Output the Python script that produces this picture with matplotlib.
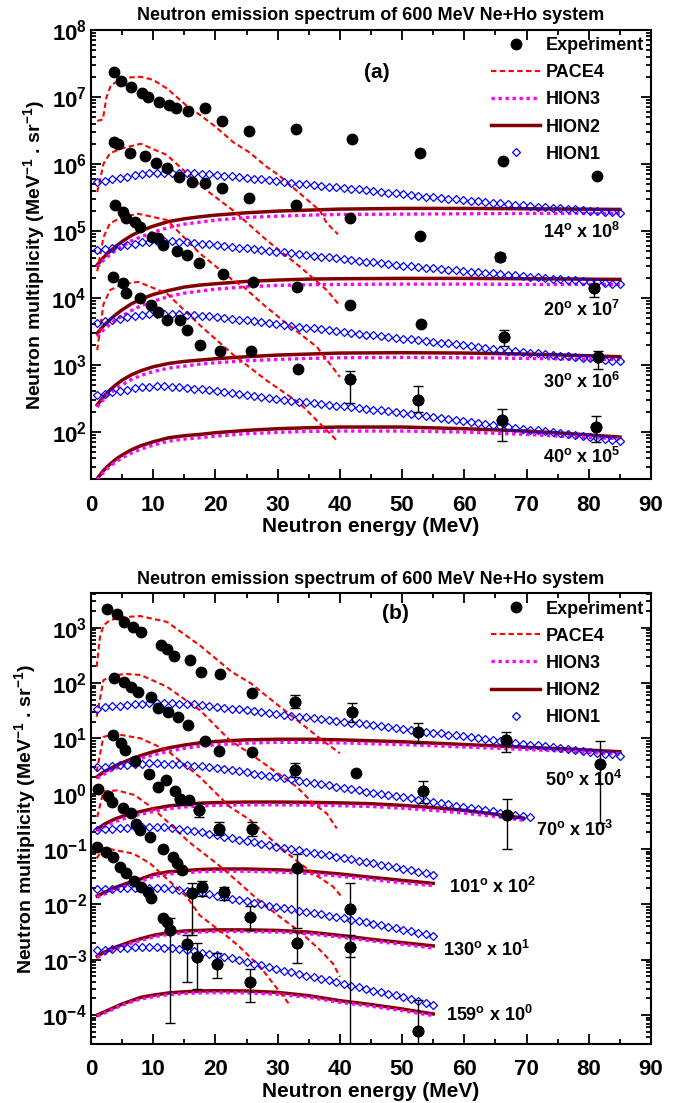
"""
Neutron emission spectrum of 600 MeV Ne+Ho system, two panels
(a) forward angles, (b) backward angles. Values read off the reference.
"""
import numpy as np
import matplotlib
matplotlib.use("Agg")
import matplotlib.pyplot as plt
from matplotlib.ticker import LogLocator, FixedLocator, FuncFormatter, MultipleLocator, NullFormatter

plt.rcParams.update({
    "font.family": "Liberation Sans",
    "font.weight": "bold",
    "mathtext.fontset": "custom",
    "mathtext.rm": "Liberation Sans:bold",
    "mathtext.it": "Liberation Sans:bold",
    "mathtext.bf": "Liberation Sans:bold",
    "mathtext.default": "rm",
})

# ── panel (a) data ───────────────────────────────────────────────────────────
angles_a = ["14", "20", "30", "40"]
scale_a = ["8", "7", "6", "5"]

exp14_E = [3.75, 4.9, 6.5, 8.2, 9.2, 10.9, 12.5, 13.6, 15.6, 18.4, 21.0, 25.4, 32.9, 42.0, 52.8, 66.2, 81.3]
exp14_y = [2.33e7, 1.75e7, 1.42e7, 1.16e7, 1.0e7, 8.5e6, 7.7e6, 6.8e6, 6.15e6, 6.8e6, 4.4e6, 3.1e6, 3.3e6, 2.32e6, 1.47e6, 1.1e6, 6.6e5]
exp20_E = [3.75, 4.4, 6.2, 8.7, 10.4, 12.2, 14.1, 16.3, 18.4, 21.0, 25.4, 32.9, 41.6, 52.9, 65.8, 80.9]
exp20_y = [2.14e6, 1.95e6, 1.47e6, 1.32e6, 1.02e6, 8.6e5, 6.4e5, 5.3e5, 5.1e5, 4.3e5, 3.1e5, 2.45e5, 1.57e5, 8.3e4, 4.1e4, 1.38e4]
exp30_E = [3.86, 5.1, 5.6, 7.07, 7.9, 9.75, 10.8, 11.5, 13.8, 15.4, 17.4, 21.2, 26.1, 33.1, 41.7, 53.0, 66.4, 81.5]
exp30_y = [2.42e5, 1.92e5, 1.53e5, 1.36e5, 1.15e5, 8.1e4, 7.7e4, 6.1e4, 5.0e4, 4.3e4, 3.26e4, 2.25e4, 1.7e4, 1.43e4, 7.9e3, 4.1e3, 2.6e3, 1.31e3]
exp40_E = [3.6, 5.1, 5.7, 7.9, 9.6, 10.7, 12.2, 14.3, 15.5, 17.5, 20.8, 25.7, 33.2, 41.7, 52.6, 66.0, 81.1]
exp40_y = [2.03e4, 1.67e4, 1.2e4, 9.8e3, 7.9e3, 6.2e3, 4.6e3, 4.6e3, 3.36e3, 1.95e3, 1.58e3, 1.58e3, 857, 607, 302, 148, 117]

# error bars: (E, value, lower, upper)
err_a = [
    (65.8, 4.1e4, 3.6e4, 4.7e4), (80.9, 1.38e4, 1.03e4, 1.58e4),
    (66.4, 2.6e3, 1.89e3, 3.28e3), (81.5, 1.31e3, 877, 1.6e3),
    (41.7, 607, 272, 800), (52.6, 302, 197, 478), (66.0, 148, 72, 216), (81.1, 117, 70, 172),
]

pace14_E = [1, 1.9, 2.5, 3.2, 4, 5, 6, 8, 10, 12.2, 15.6, 17.5, 20, 22.9, 25.4, 28.2, 30, 33.6, 36.8, 37.9, 39.7]
pace14_y = [4.4e6, 4.6e6, 1.0e7, 1.5e7, 1.65e7, 1.8e7, 1.95e7, 2.0e7, 1.8e7, 1.34e7, 7.1e6, 5.4e6, 3.6e6, 2.1e6,
            1.5e6, 9.1e5, 7.0e5, 3.6e5, 2.0e5, 1.3e5, 8.9e4]
pace20_E = [1, 1.5, 2, 3.05, 4.9, 8, 12.2, 17.5, 22.9, 28.2, 33.6, 37.9, 39.7]
pace20_y = [3.8e5, 6.0e5, 1.0e6, 1.44e6, 1.7e6, 2.0e6, 1.36e6, 4.8e5, 2.0e5, 7.3e4, 2.9e4, 1.3e4, 8.2e3]
pace30_E = [1, 2, 3.05, 5, 7.6, 12.2, 17.5, 22.9, 24.5, 28, 31.5, 36.3, 40]
pace30_y = [2.5e4, 8.0e4, 1.3e5, 1.6e5, 1.8e5, 1.45e5, 4.6e4, 1.8e4, 1.46e4, 7.5e3, 4.1e3, 1.85e3, 658]
pace40_E = [1, 2, 3.05, 5, 7.6, 12.2, 17.5, 22.9, 28.2, 33.6, 39.5]
pace40_y = [1.65e3, 8.0e3, 1.3e4, 1.6e4, 1.73e4, 1.16e4, 3.9e3, 1.4e3, 586, 263, 74]

# HION2 / HION3 curves, log10 of multiplicity
hion_a_E = [1, 2, 3, 4, 5, 6.5, 8, 10, 12.5, 15, 17.5, 20, 25, 30, 35, 40, 50, 60, 70, 78, 85]
hion2_14 = [4.49, 4.60, 4.69, 4.77, 4.84, 4.93, 5.00, 5.07, 5.14, 5.18, 5.21, 5.235, 5.27, 5.295, 5.31, 5.325, 5.335, 5.335, 5.33, 5.325, 5.32]
hion3_14 = [4.46, 4.56, 4.64, 4.71, 4.77, 4.85, 4.91, 4.98, 5.05, 5.10, 5.13, 5.16, 5.20, 5.22, 5.235, 5.245, 5.25, 5.255, 5.26, 5.26, 5.26]
hion2_20 = [3.47, 3.58, 3.67, 3.75, 3.82, 3.91, 3.98, 4.05, 4.11, 4.16, 4.19, 4.21, 4.245, 4.265, 4.28, 4.285, 4.29, 4.29, 4.285, 4.28, 4.275]
hion3_20 = [3.42, 3.52, 3.60, 3.67, 3.73, 3.81, 3.88, 3.95, 4.02, 4.07, 4.10, 4.13, 4.165, 4.185, 4.195, 4.20, 4.205, 4.205, 4.20, 4.20, 4.20]
hion2_30 = [2.40, 2.52, 2.62, 2.70, 2.77, 2.85, 2.91, 2.97, 3.02, 3.05, 3.07, 3.09, 3.12, 3.145, 3.16, 3.175, 3.18, 3.175, 3.16, 3.14, 3.12]
hion3_30 = [2.37, 2.48, 2.57, 2.64, 2.70, 2.78, 2.84, 2.90, 2.95, 2.98, 3.01, 3.03, 3.06, 3.08, 3.095, 3.105, 3.11, 3.105, 3.095, 3.085, 3.077]
hion2_40 = [1.30, 1.42, 1.51, 1.59, 1.65, 1.73, 1.79, 1.85, 1.91, 1.94, 1.96, 1.985, 2.02, 2.045, 2.06, 2.07, 2.07, 2.045, 2.01, 1.965, 1.92]
hion3_40 = [1.28, 1.39, 1.48, 1.55, 1.61, 1.68, 1.74, 1.80, 1.86, 1.89, 1.91, 1.935, 1.97, 1.99, 2.005, 2.01, 2.01, 1.995, 1.96, 1.92, 1.897]

# HION1 sampled every 1.2 MeV from 1 MeV (log10)
hion1_E = np.round(np.arange(1.0, 85.01, 1.2), 1)
hion1_14 = [5.73, 5.75, 5.77, 5.79, 5.81, 5.83, 5.85, 5.86, 5.87, 5.87, 5.87, 5.87, 5.865, 5.86, 5.855, 5.845,
            5.835, 5.825, 5.815, 5.80, 5.79, 5.78, 5.77, 5.755, 5.74, 5.73, 5.72, 5.705, 5.695, 5.685, 5.67, 5.66,
            5.65, 5.64, 5.63, 5.62, 5.61, 5.60, 5.585, 5.57, 5.56, 5.55, 5.535, 5.52, 5.51, 5.50, 5.49, 5.48, 5.47,
            5.46, 5.45, 5.44, 5.43, 5.42, 5.41, 5.40, 5.39, 5.38, 5.37, 5.36, 5.355, 5.345, 5.335, 5.33, 5.32, 5.31,
            5.30, 5.295, 5.285, 5.275, 5.27]
hion1_20 = [4.71, 4.73, 4.75, 4.77, 4.79, 4.81, 4.83, 4.84, 4.85, 4.85, 4.845, 4.84, 4.83, 4.82, 4.81, 4.80,
            4.79, 4.78, 4.765, 4.75, 4.74, 4.73, 4.715, 4.70, 4.69, 4.68, 4.665, 4.65, 4.64, 4.63, 4.615, 4.605,
            4.59, 4.58, 4.57, 4.555, 4.54, 4.53, 4.515, 4.50, 4.49, 4.48, 4.47, 4.46, 4.45, 4.44, 4.43, 4.42, 4.41,
            4.40, 4.39, 4.385, 4.375, 4.365, 4.355, 4.345, 4.335, 4.325, 4.315, 4.305, 4.295, 4.285, 4.275, 4.265,
            4.26, 4.25, 4.24, 4.23, 4.22, 4.21, 4.20]
hion1_30 = [3.63, 3.65, 3.67, 3.69, 3.71, 3.73, 3.745, 3.755, 3.765, 3.765, 3.76, 3.755, 3.75, 3.745, 3.735, 3.725,
            3.715, 3.70, 3.69, 3.675, 3.665, 3.65, 3.64, 3.625, 3.61, 3.60, 3.585, 3.57, 3.555, 3.545, 3.53, 3.515,
            3.50, 3.49, 3.475, 3.46, 3.45, 3.44, 3.43, 3.415, 3.405, 3.39, 3.38, 3.365, 3.355, 3.345, 3.33, 3.32,
            3.305, 3.29, 3.28, 3.265, 3.25, 3.24, 3.225, 3.21, 3.20, 3.19, 3.18, 3.17, 3.16, 3.15, 3.135, 3.125,
            3.115, 3.105, 3.095, 3.08, 3.07, 3.06, 3.05]
hion1_40 = [2.55, 2.57, 2.59, 2.61, 2.63, 2.65, 2.665, 2.675, 2.68, 2.68, 2.675, 2.665, 2.655, 2.645, 2.635, 2.62,
            2.61, 2.595, 2.58, 2.565, 2.55, 2.535, 2.52, 2.505, 2.49, 2.48, 2.465, 2.45, 2.44, 2.425, 2.41, 2.40,
            2.39, 2.38, 2.37, 2.355, 2.345, 2.33, 2.32, 2.305, 2.29, 2.275, 2.26, 2.245, 2.23, 2.215, 2.20, 2.185,
            2.17, 2.155, 2.145, 2.13, 2.115, 2.10, 2.085, 2.07, 2.06, 2.045, 2.03, 2.02, 2.005, 1.99, 1.975, 1.965,
            1.95, 1.935, 1.92, 1.905, 1.89, 1.875, 1.86]

# ── panel (b) data ───────────────────────────────────────────────────────────
angles_b = ["50", "70", "101", "130", "159"]
scale_b = ["4", "3", "2", "1", "0"]

exp50_E = [2.5, 4.1, 5.3, 6.8, 8.0, 11.3, 12.2, 13.3, 15.9, 17.6, 20.8, 25.8, 32.8, 41.9, 52.6, 66.7, 81.8]
exp50_y = [2180, 1750, 1280, 1020, 847, 486, 412, 312, 260, 160, 144, 65, 46, 30, 13.2, 9.3, 3.5]
exp70_E = [3.7, 5.3, 6.5, 7.6, 9.6, 10.8, 12.4, 14.0, 15.6, 18.3, 20.5, 25.8, 32.8, 42.6, 53.4, 66.8]
exp70_y = [122, 106, 86, 68, 56.5, 34.8, 29.5, 24.6, 17.4, 8.9, 5.9, 5.7, 2.67, 2.39, 1.13, 0.41]
exp101_E = [3.6, 4.8, 5.5, 7.0, 9.3, 10.8, 12.0, 13.5, 14.3, 15.8, 17.3, 20.5, 25.8, 33.1, 41.7]
exp101_y = [11.5, 8.1, 6.1, 3.9, 2.26, 1.3, 1.76, 1.13, 0.79, 0.77, 0.5, 0.235, 0.226, 0.0446, 0.0081]
exp130_E = [1.1, 2.8, 3.4, 5.1, 6.4, 7.2, 7.9, 9.5, 11.5, 13.1, 13.8, 14.7, 16.3, 17.9, 21.3, 25.6, 33.1, 41.6]
exp130_y = [1.2, 0.905, 0.70, 0.557, 0.44, 0.28, 0.22, 0.166, 0.10, 0.072, 0.055, 0.0415, 0.0162, 0.0207,
            0.0168, 0.0059, 0.002, 0.0017]
exp159_E = [0.9, 2.4, 3.6, 4.7, 5.7, 6.9, 8.1, 9.2, 9.7, 11.5, 12.2, 12.7, 15.4, 17.0, 20.2, 25.6, 52.6]
exp159_y = [0.107, 0.089, 0.072, 0.048, 0.037, 0.027, 0.021, 0.0168, 0.0133, 0.0056, 0.0048, 0.0034, 0.0019,
            0.0011, 8.5e-4, 4.0e-4, 5.2e-5]

err_b = [
    (32.8, 46, 35, 62), (41.9, 30, 20, 44), (52.6, 13.2, 8.3, 18.7), (66.7, 9.3, 5.8, 13.2), (81.8, 3.5, 0.3, 9.1),
    (32.8, 2.67, 2.0, 3.6), (53.4, 1.13, 0.68, 1.69), (66.8, 0.41, 0.1, 0.79),
    (14.3, 0.79, 0.62, 0.88), (17.3, 0.5, 0.38, 0.67), (20.5, 0.235, 0.178, 0.31), (25.8, 0.226, 0.17, 0.31),
    (33.1, 0.0446, 0.0038, 0.08), (41.7, 0.0081, 2e-5, 0.024),
    (16.3, 0.0162, 0.0028, 0.0245), (17.9, 0.0207, 0.014, 0.0266), (21.3, 0.0168, 0.0119, 0.0207),
    (25.6, 0.0059, 0.0034, 0.0093), (33.1, 0.002, 8.7e-4, 0.0032), (41.6, 0.0017, 0.0011, 0.0028),
    (12.7, 0.0034, 7.3e-5, 0.0056), (15.4, 0.0019, 4e-4, 0.0028), (17.0, 0.0011, 3e-4, 0.002),
    (20.2, 8.5e-4, 4.7e-4, 0.0013), (25.6, 4.0e-4, 1.7e-4, 6.8e-4), (52.6, 5.2e-5, 2e-5, 1.9e-4),
]

pace50_E = [0.9, 1.45, 2, 3.05, 5, 7.9, 12.2, 17.5, 22.6, 25.7, 27.7, 33.1, 36.8, 40]
pace50_y = [197, 687, 1100, 1380, 1550, 1630, 1280, 480, 160, 99, 65, 21.4, 10, 5.4]
pace70_E = [0.9, 2, 3.5, 5.7, 8, 12.2, 17.5, 22.3, 25.5, 29.3, 33.1, 35.7, 37.9, 39.5]
pace70_y = [24.6, 113, 138, 146, 140, 86, 32.5, 9.3, 5.4, 2.67, 1.33, 0.67, 0.44, 0.236]
pace101_E = [0.9, 2, 3, 5, 8, 12.2, 17.5, 22.3, 25.5, 28.8, 31.5, 33.6, 36.3, 38.9, 40.3]
pace101_y = [2.5, 10.7, 11.3, 11.5, 10, 6.1, 2.0, 0.58, 0.34, 0.155, 0.085, 0.055, 0.033, 0.021, 0.0137]
pace130_E = [1, 2, 4.2, 7, 9.8, 12.2, 14.3, 15.9, 20.2, 23.4, 26.6, 30.4, 33.6, 36.8, 38.9, 40]
pace130_y = [0.38, 1.1, 1.15, 0.95, 0.56, 0.32, 0.19, 0.13, 0.055, 0.027, 0.0128, 0.0059, 0.0032, 0.0015, 8.5e-4, 4.9e-4]
pace159_E = [0.9, 2, 3, 6.8, 9.5, 12.2, 15.4, 17.5, 21.8, 23.9, 27.2, 29.3, 32]
pace159_y = [0.068, 0.10, 0.10, 0.083, 0.055, 0.029, 0.0137, 0.0063, 0.0027, 0.0017, 7.4e-4, 3.7e-4, 1.5e-4]

hion_50_E = [1, 2, 3, 4, 5, 6.5, 8, 10, 12.5, 15, 17.5, 20, 25, 30, 35, 40, 50, 60, 70, 78, 85]
hion2_50 = [0.31, 0.39, 0.45, 0.51, 0.56, 0.63, 0.69, 0.76, 0.83, 0.88, 0.92, 0.945, 0.975, 0.985, 0.985, 0.975, 0.94, 0.89, 0.84, 0.80, 0.76]
hion3_50 = [0.28, 0.35, 0.41, 0.46, 0.51, 0.58, 0.64, 0.70, 0.77, 0.82, 0.86, 0.885, 0.915, 0.93, 0.93, 0.92, 0.89, 0.845, 0.80, 0.76, 0.72]
hion_70_E = [1, 2, 3, 4, 5, 6.5, 8, 10, 12.5, 15, 17.5, 20, 25, 30, 35, 40, 45, 50, 55, 60, 65, 69.5]
hion2_70 = [-0.64, -0.56, -0.50, -0.45, -0.41, -0.36, -0.32, -0.27, -0.22, -0.19, -0.17, -0.16, -0.15, -0.15, -0.155, -0.165, -0.18, -0.21, -0.25, -0.30, -0.37, -0.44]
hion3_70 = [-0.67, -0.60, -0.55, -0.50, -0.46, -0.41, -0.37, -0.32, -0.27, -0.24, -0.22, -0.21, -0.20, -0.20, -0.205, -0.215, -0.23, -0.26, -0.30, -0.35, -0.41, -0.48]
hion_back_E = [1, 2, 3, 4, 5, 6.5, 8, 10, 12.5, 15, 17.5, 20, 25, 30, 35, 40, 45, 50, 55]
hion2_101 = [-1.85, -1.79, -1.74, -1.69, -1.65, -1.59, -1.54, -1.46, -1.41, -1.39, -1.37, -1.36, -1.36, -1.375, -1.40, -1.45, -1.51, -1.565, -1.62]
hion3_101 = [-1.87, -1.82, -1.77, -1.73, -1.69, -1.63, -1.58, -1.50, -1.45, -1.43, -1.41, -1.40, -1.40, -1.415, -1.44, -1.49, -1.55, -1.61, -1.66]
hion2_130 = [-2.94, -2.87, -2.82, -2.77, -2.73, -2.67, -2.62, -2.56, -2.51, -2.48, -2.47, -2.46, -2.46, -2.47, -2.50, -2.56, -2.63, -2.69, -2.75]
hion3_130 = [-2.96, -2.90, -2.85, -2.80, -2.76, -2.70, -2.65, -2.59, -2.54, -2.51, -2.50, -2.49, -2.49, -2.50, -2.53, -2.59, -2.66, -2.72, -2.79]
hion2_159 = [-4.00, -3.95, -3.90, -3.85, -3.80, -3.74, -3.68, -3.64, -3.60, -3.58, -3.565, -3.56, -3.565, -3.59, -3.65, -3.74, -3.81, -3.89, -3.98]
hion3_159 = [-4.02, -3.97, -3.92, -3.87, -3.82, -3.76, -3.71, -3.67, -3.63, -3.61, -3.60, -3.595, -3.60, -3.625, -3.68, -3.77, -3.84, -3.92, -4.01]

hion1_50 = [1.54, 1.56, 1.58, 1.595, 1.61, 1.62, 1.63, 1.635, 1.64, 1.64, 1.635, 1.63, 1.625, 1.615, 1.60, 1.585,
            1.57, 1.555, 1.54, 1.525, 1.51, 1.495, 1.475, 1.46, 1.445, 1.43, 1.41, 1.395, 1.38, 1.365, 1.35, 1.335,
            1.315, 1.30, 1.285, 1.27, 1.255, 1.24, 1.22, 1.205, 1.19, 1.17, 1.155, 1.14, 1.12, 1.105, 1.09, 1.07,
            1.055, 1.04, 1.02, 1.005, 0.99, 0.97, 0.955, 0.94, 0.92, 0.905, 0.89, 0.875, 0.855, 0.84, 0.825, 0.81,
            0.79, 0.775, 0.76, 0.745, 0.725, 0.71, 0.69]
hion1_70 = [0.475, 0.49, 0.50, 0.515, 0.525, 0.535, 0.545, 0.55, 0.55, 0.545, 0.54, 0.53, 0.52, 0.51, 0.495, 0.48,
            0.46, 0.445, 0.425, 0.405, 0.385, 0.365, 0.345, 0.32, 0.30, 0.28, 0.26, 0.235, 0.215, 0.195, 0.17, 0.15,
            0.13, 0.105, 0.085, 0.065, 0.04, 0.02, 0.00, -0.02, -0.045, -0.065, -0.085, -0.11, -0.13, -0.15, -0.17,
            -0.19, -0.215, -0.235, -0.255, -0.28, -0.30, -0.32, -0.345, -0.365, -0.385, -0.405, -0.425]
hion1_101 = [-0.65, -0.64, -0.63, -0.62, -0.61, -0.605, -0.60, -0.60, -0.60, -0.605, -0.62, -0.635, -0.65, -0.67,
             -0.695, -0.72, -0.75, -0.775, -0.80, -0.83, -0.855, -0.88, -0.905, -0.93, -0.955, -0.98, -1.00, -1.025,
             -1.045, -1.07, -1.09, -1.115, -1.14, -1.165, -1.185, -1.21, -1.235, -1.26, -1.28, -1.305, -1.33, -1.355,
             -1.38, -1.41, -1.435, -1.46]
hion1_130 = [-1.73, -1.725, -1.72, -1.71, -1.705, -1.70, -1.70, -1.70, -1.705, -1.71, -1.72, -1.735, -1.755, -1.775,
             -1.795, -1.82, -1.845, -1.87, -1.895, -1.92, -1.945, -1.97, -1.995, -2.02, -2.045, -2.07, -2.09, -2.115,
             -2.135, -2.16, -2.18, -2.205, -2.225, -2.25, -2.275, -2.30, -2.325, -2.355, -2.38, -2.405, -2.43, -2.455,
             -2.485, -2.51, -2.54, -2.57]
hion1_159 = [-2.83, -2.82, -2.805, -2.795, -2.785, -2.775, -2.77, -2.77, -2.775, -2.78, -2.79, -2.81, -2.83, -2.85,
             -2.87, -2.89, -2.92, -2.945, -2.975, -3.005, -3.04, -3.07, -3.10, -3.13, -3.16, -3.195, -3.225, -3.255,
             -3.285, -3.315, -3.345, -3.375, -3.405, -3.44, -3.47, -3.50, -3.53, -3.56, -3.585, -3.615, -3.645,
             -3.675, -3.71, -3.74, -3.775, -3.81]

# ── styles ───────────────────────────────────────────────────────────────────
C_PACE, C_H3, C_H2, C_H1 = "#FF0000", "#FF00FF", "#7F0000", "#0000FF"
TICK_FS = 16


def draw_panel(ax, exps, paces, h2s, h3s, h1s, errs):
    for E, lg in h2s:
        h2, = ax.plot(E, 10 ** np.array(lg), color=C_H2, lw=2.5, zorder=2)
    for E, lg in h3s:
        h3, = ax.plot(E, 10 ** np.array(lg), color=C_H3, lw=2.4, ls=(0, (1, 1.1)), zorder=3)
    for E, y in paces:
        hp, = ax.plot(E, y, color=C_PACE, lw=1.5, ls=(0, (2.6, 1.6)), zorder=4)
    for lg in h1s:
        h1, = ax.plot(hion1_E[:len(lg)], 10 ** np.array(lg), ls="none", marker="D", ms=4.1,
                      mfc="none", mec=C_H1, mew=0.9, zorder=5)
    for E, y in exps:
        he, = ax.plot(E, y, "o", color="black", ms=7.5, zorder=7)
    eE = [e[0] for e in errs]
    ev = np.array([e[1] for e in errs])
    elo = ev - np.array([e[2] for e in errs])
    ehi = np.array([e[3] for e in errs]) - ev
    ax.errorbar(eE, ev, yerr=[elo, ehi], fmt="o", color="black", ms=7.5, elinewidth=1.0,
                capsize=3.5, capthick=1.0, zorder=6)
    ax.legend([he, hp, h3, h2, h1], ["Experiment", "PACE4", "HION3", "HION2", "HION1"],
              loc="upper right", frameon=False, fontsize=13, handlelength=2.7, handletextpad=0.3,
              labelspacing=0.56, borderaxespad=0.2, borderpad=0.2, numpoints=1)


def style_axes(ax, ylim, decades, title):
    ax.set_yscale("log")
    ax.set_xlim(0, 90)
    ax.set_ylim(*ylim)
    ax.xaxis.set_major_locator(MultipleLocator(10))
    ax.xaxis.set_minor_locator(MultipleLocator(5))
    ax.yaxis.set_major_locator(FixedLocator([10.0 ** d for d in decades]))
    ax.yaxis.set_minor_locator(LogLocator(base=10, subs=np.arange(2, 10), numticks=30))
    ax.yaxis.set_minor_formatter(NullFormatter())
    ax.yaxis.set_major_formatter(FuncFormatter(lambda v, p: r"$10^{%d}$" % round(np.log10(v))))
    ax.tick_params(which="both", direction="in", top=True, right=True, width=1.3, labelsize=TICK_FS)
    ax.tick_params(which="major", length=7)
    ax.tick_params(which="minor", length=3.5)
    ax.tick_params(axis="x", which="major", pad=11)
    ax.tick_params(axis="y", which="major", pad=3)
    for s in ax.spines.values():
        s.set_linewidth(1.5)
    ax.set_xlabel("Neutron energy (MeV)", fontsize=15, fontweight="bold", labelpad=1)
    ax.set_ylabel(r"Neutron multiplicity (MeV$^{-1}$ . sr$^{-1}$)", fontsize=14, fontweight="bold", labelpad=3)
    ax.set_title(title, fontsize=13, fontweight="bold", pad=7)


fig = plt.figure(figsize=(6.76, 11.03), dpi=100)
ax_a = fig.add_axes([0.1346, 0.5655, 0.8284, 0.4073])
ax_b = fig.add_axes([0.1346, 0.0535, 0.8284, 0.4086])
title = "Neutron emission spectrum of 600 MeV Ne+Ho system"

draw_panel(ax_a,
           [(exp14_E, exp14_y), (exp20_E, exp20_y), (exp30_E, exp30_y), (exp40_E, exp40_y)],
           [(pace14_E, pace14_y), (pace20_E, pace20_y), (pace30_E, pace30_y), (pace40_E, pace40_y)],
           [(hion_a_E, hion2_14), (hion_a_E, hion2_20), (hion_a_E, hion2_30), (hion_a_E, hion2_40)],
           [(hion_a_E, hion3_14), (hion_a_E, hion3_20), (hion_a_E, hion3_30), (hion_a_E, hion3_40)],
           [hion1_14, hion1_20, hion1_30, hion1_40], err_a)
style_axes(ax_a, (19.5, 1e8), range(2, 9), title)
ax_a.text(46, 2.3e7, "(a)", fontsize=15, fontweight="bold", ha="center", va="center")
lab_pos_a = [(85, 9.7e4), (85, 6.5e3), (85, 553), (85, 41.9)]
for (x, y), ang, sc in zip(lab_pos_a, angles_a, scale_a):
    ax_a.text(x, y, r"%s$^{\rm o}$ x 10$^{%s}$" % (ang, sc), fontsize=13, ha="right", va="center")

draw_panel(ax_b,
           [(exp50_E, exp50_y), (exp70_E, exp70_y), (exp101_E, exp101_y), (exp130_E, exp130_y), (exp159_E, exp159_y)],
           [(pace50_E, pace50_y), (pace70_E, pace70_y), (pace101_E, pace101_y), (pace130_E, pace130_y), (pace159_E, pace159_y)],
           [(hion_50_E, hion2_50), (hion_70_E, hion2_70), (hion_back_E, hion2_101), (hion_back_E, hion2_130), (hion_back_E, hion2_159)],
           [(hion_50_E, hion3_50), (hion_70_E, hion3_70), (hion_back_E, hion3_101), (hion_back_E, hion3_130), (hion_back_E, hion3_159)],
           [hion1_50, hion1_70, hion1_101, hion1_130, hion1_159], err_b)
style_axes(ax_b, (3e-5, 4200), range(-4, 4), title)
ax_b.text(49, 1800, "(b)", fontsize=15, fontweight="bold", ha="center", va="center")
lab_pos_b = [(85.5, 1.76), (84, 0.22), (71.6, 0.0207), (70.6, 0.00148), (71, 1.0e-4)]
for (x, y), ang, sc in zip(lab_pos_b, angles_b, scale_b):
    ax_b.text(x, y, r"%s$^{\rm o}$ x 10$^{%s}$" % (ang, sc), fontsize=13, ha="right", va="center")

plt.savefig("out.png", dpi=100)
plt.close()
